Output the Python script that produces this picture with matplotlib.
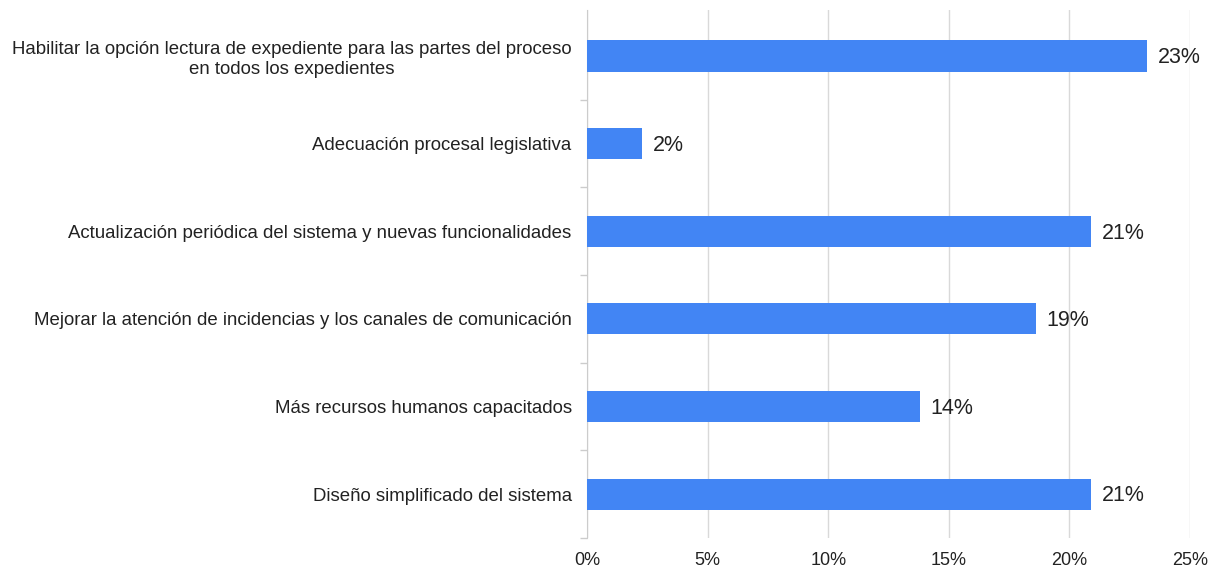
import matplotlib
matplotlib.use('Agg')
import matplotlib.pyplot as plt
from matplotlib.ticker import FixedLocator, PercentFormatter

plt.rcParams['font.family'] = ['Liberation Sans', 'DejaVu Sans']

categories = [
    'Habilitar la opción lectura de expediente para las partes del proceso\nen todos los expedientes',
    'Adecuación procesal legislativa',
    'Actualización periódica del sistema y nuevas funcionalidades',
    'Mejorar la atención de incidencias y los canales de comunicación',
    'Más recursos humanos capacitados',
    'Diseño simplificado del sistema',
]
values = [23.2, 2.3, 20.9, 18.6, 13.8, 20.9]
labels = ['23%', '2%', '21%', '19%', '14%', '21%']
xticks = [0, 5, 10, 15, 20, 25]

bar_color = '#4285F4'
text_color = '#222222'

fig = plt.figure(figsize=(12.13, 5.69), dpi=100)
ax = fig.add_axes([587 / 1213, 1 - 538 / 569, (1190 - 587) / 1213, (538 - 10) / 569])

n = len(categories)
ypos = list(range(n - 1, -1, -1))
ax.barh(ypos, values, height=0.355, color=bar_color, zorder=3)

for y, v, lab in zip(ypos, values, labels):
    ax.text(v + 0.45, y - 0.02, lab, va='center', ha='left', fontsize=15.5, color=text_color)

ax.set_xlim(0, 25)
ax.set_ylim(-0.5, n - 1 + 0.525)
ax.set_xticks(xticks)
ax.xaxis.set_major_formatter(PercentFormatter(decimals=0))
ax.set_yticks(ypos)
ax.set_yticklabels(categories, ha='right', multialignment='center', fontsize=13.4, color=text_color)
ax.tick_params(axis='y', length=0, pad=11)
ax.yaxis.set_minor_locator(FixedLocator([k + 0.5 for k in range(-1, n - 1)]))
ax.tick_params(axis='y', which='minor', length=5, color='#cccccc', width=1)
ax.tick_params(axis='x', length=0, labelsize=13, colors=text_color, pad=10)

ax.grid(axis='x', color='#d9d9d9', linewidth=1, zorder=0)
for side in ['top', 'right', 'bottom']:
    ax.spines[side].set_visible(False)
ax.spines['left'].set_color('#cccccc')

fig.savefig('out.png', dpi=100)
